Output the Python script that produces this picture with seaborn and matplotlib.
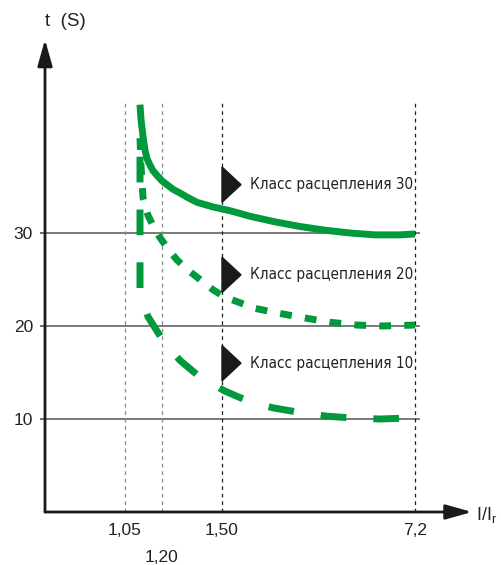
import matplotlib.pyplot as plt
from matplotlib.patches import Polygon
import pandas as pd
import seaborn as sns

# schematic positions on the I/Ir axis and their labels
x_ticks = [80, 117, 177, 370]
x_labels = ['1,05', '1,20', '1,50', '7,2']
t_ticks = [10, 20, 30]

# trip curves (x: schematic position, t: seconds)
class30_x = [95, 95.5, 96, 97, 98.5, 100, 102, 105, 108, 112, 117, 122, 128, 135, 143, 152, 168, 185, 205,
             230, 255, 280, 305, 330, 355, 370]
class30_t = [43.8, 43.0, 42.2, 41.3, 40.0, 38.9, 38.0, 37.3, 36.7, 36.2, 35.6, 35.2, 34.7, 34.3, 33.8,
             33.3, 32.8, 32.4, 31.8, 31.2, 30.7, 30.3, 30.0, 29.8, 29.8, 29.9]
class20_x = [95, 96, 98, 103, 108, 115, 123, 132, 143, 155, 168, 180, 195, 210, 232, 258, 285, 312, 338, 370]
class20_t = [40.2, 37.3, 33.8, 31.9, 30.8, 29.5, 28.3, 27.1, 26.0, 25.0, 23.9, 23.1, 22.5, 21.9, 21.4,
             20.9, 20.4, 20.1, 20.0, 20.1]
class10_x = [95, 95, 98, 103, 110, 117, 126, 135, 145, 155, 167, 180, 195, 210, 228, 255, 282, 308, 335, 362]
class10_t = [38.2, 23.9, 22.5, 21.0, 19.8, 18.6, 17.4, 16.3, 15.4, 14.5, 13.8, 13.0, 12.3, 11.7, 11.2,
             10.7, 10.3, 10.1, 10.0, 10.1]

curve_labels = ['Класс расцепления 30', 'Класс расцепления 20', 'Класс расцепления 10']
label_t = [35.2, 25.5, 16.0]

green = '#00993c'

sns.set_theme(style='white')
plt.rcParams['font.family'] = ['Liberation Sans', 'DejaVu Sans']
plt.rcParams['mathtext.fontset'] = 'custom'
plt.rcParams['mathtext.rm'] = 'Liberation Sans'

fig = plt.figure(figsize=(5.01, 5.65), dpi=100)
ax = fig.add_axes([45 / 501, 53 / 565, 456 / 501, 512 / 565])
ax.set_xlim(0, 456)
ax.set_ylim(0, 512 / 9.3)
sns.despine(ax=ax, left=True, bottom=True)

# guide lines
ax.hlines(t_ticks, 0, 375, color='#555555', lw=1.1, zorder=1)
ax.vlines(x_ticks, 0, 44, colors=['#888888', '#888888', '#222222', '#222222'],
          lw=0.9, linestyles=(0, (3, 3)), zorder=1)

# curves
df10 = pd.DataFrame({'x': class10_x, 't': class10_t})
df20 = pd.DataFrame({'x': class20_x, 't': class20_t})
df30 = pd.DataFrame({'x': class30_x, 't': class30_t})
sns.lineplot(data=df10, x='x', y='t', ax=ax, sort=False, estimator=None, color=green,
             lw=5, linestyle=(0, (3.7, 3.9)), dash_joinstyle='round', zorder=3)
sns.lineplot(data=df20, x='x', y='t', ax=ax, sort=False, estimator=None, color=green,
             lw=5, linestyle=(0, (1.7, 1.9)), dash_joinstyle='round', zorder=3)
sns.lineplot(data=df30, x='x', y='t', ax=ax, sort=False, estimator=None, color=green,
             lw=5, solid_capstyle='butt', solid_joinstyle='round', zorder=4)
ax.set_xlabel('')
ax.set_ylabel('')

# ticks
ax.set_yticks(t_ticks)
ax.set_yticklabels([str(t) for t in t_ticks])
ax.set_xticks([x_ticks[0], x_ticks[2], x_ticks[3]])
ax.set_xticklabels([x_labels[0], x_labels[2], x_labels[3]])
ax.set_xticks([x_ticks[1]], labels=[x_labels[1]], minor=True)
ax.tick_params(axis='y', left=True, length=3.6, width=1.1, color='#444444',
               pad=5, labelsize=12.5, labelcolor='#222222')
ax.tick_params(axis='x', which='major', bottom=False, length=0, pad=8,
               labelsize=12.5, labelcolor='#222222')
ax.tick_params(axis='x', which='minor', bottom=False, length=0, pad=27,
               labelsize=12.5, labelcolor='#222222')

# axis arrows
arrow = dict(arrowstyle='-|>,head_length=1.6,head_width=0.45', color='#1a1a1a',
             lw=2, shrinkA=0, shrinkB=0, mutation_scale=10)
ax.annotate('', xy=(0, 50.8), xytext=(0, 0), arrowprops=arrow, annotation_clip=False)
ax.annotate('', xy=(427, 0), xytext=(0, 0), arrowprops=arrow, annotation_clip=False)
ax.text(0, 52.7, 't  (S)', fontsize=13.5, ha='left', va='center', color='#222222')
ax.text(431, -0.3, r'I/I$_\mathrm{r}$', fontsize=13, ha='left', va='center',
        color='#222222', clip_on=False)

# class markers and labels
for lab, t in zip(curve_labels, label_t):
    tri = Polygon([(x_ticks[2], t - 1.9), (x_ticks[2], t + 1.9), (x_ticks[2] + 19, t)],
                  closed=True, color='#1a1a1a', zorder=5)
    ax.add_patch(tri)
    ax.text(x_ticks[2] + 28, t, lab, fontsize=11, ha='left', va='center',
            color='#222222', family='DejaVu Sans', fontstretch='condensed')

fig.savefig('out.png', dpi=100)
